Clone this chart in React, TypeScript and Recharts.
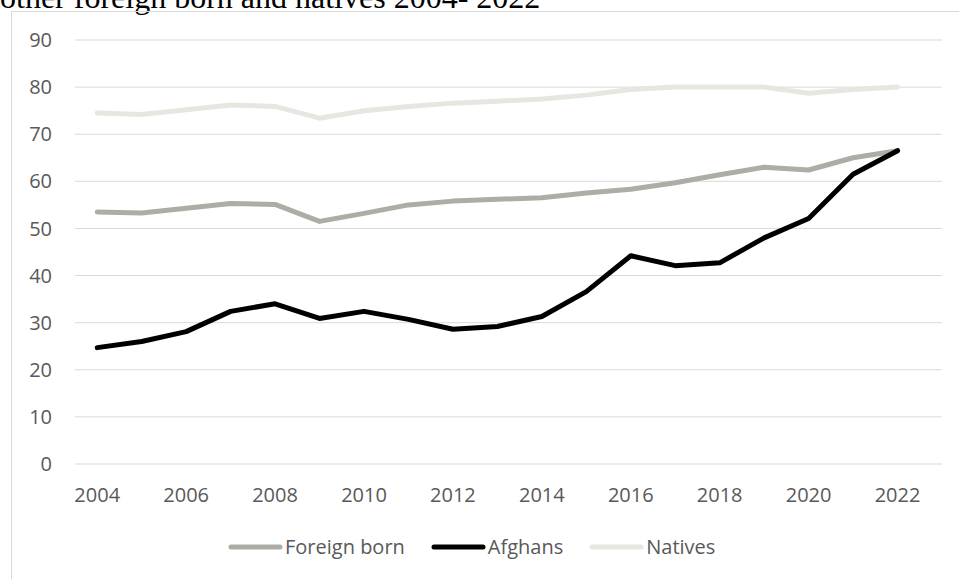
import React from 'react';
import { LineChart, Line, XAxis, YAxis, CartesianGrid, Legend } from 'recharts';

const years = [2004, 2005, 2006, 2007, 2008, 2009, 2010, 2011, 2012, 2013, 2014, 2015, 2016, 2017, 2018, 2019, 2020, 2021, 2022];
const foreignBorn = [53.5, 53.3, 54.3, 55.3, 55.1, 51.5, 53.2, 55.0, 55.8, 56.2, 56.5, 57.5, 58.3, 59.7, 61.4, 63.0, 62.4, 65.0, 66.5];
const afghans = [24.7, 26.0, 28.1, 32.4, 34.0, 30.9, 32.4, 30.7, 28.6, 29.2, 31.3, 36.6, 44.2, 42.1, 42.7, 48.0, 52.1, 61.5, 66.5];
const natives = [74.5, 74.2, 75.2, 76.2, 75.9, 73.4, 75.0, 75.9, 76.6, 77.0, 77.5, 78.3, 79.5, 80.0, 80.0, 80.0, 78.7, 79.5, 80.0];
const xTicks = [2004, 2006, 2008, 2010, 2012, 2014, 2016, 2018, 2020, 2022];
const yTicks = [0, 10, 20, 30, 40, 50, 60, 70, 80, 90];
const seriesNames = ['Foreign born', 'Afghans', 'Natives'];
const seriesColors = ['#ADADA6', '#000000', '#E7E6E1'];

const data = years.map((y, i) => ({
  year: y,
  'Foreign born': foreignBorn[i],
  Afghans: afghans[i],
  Natives: natives[i],
}));

const FONT = '"Open Sans", "Noto Sans", sans-serif';
const TEXT = '#595959';

const LegendContent = (props: any) => {
  const payload = [...(props.payload || [])].sort(
    (a: any, b: any) => seriesNames.indexOf(a.value) - seriesNames.indexOf(b.value)
  );
  return (
    <div style={{ display: 'flex', alignItems: 'center', fontFamily: FONT, fontSize: 20, color: TEXT }}>
      {payload.map((p: any, i: number) => (
        <div key={i} style={{ display: 'flex', alignItems: 'center', marginRight: 26 }}>
          <svg width={55} height={10} style={{ display: 'block' }}>
            <line x1={3} y1={5} x2={52} y2={5} stroke={p.color} strokeWidth={5} strokeLinecap="round" />
          </svg>
          <span style={{ marginLeft: 2, whiteSpace: 'nowrap' }}>{p.value}</span>
        </div>
      ))}
    </div>
  );
};

export default function App() {
  return (
    <div style={{ position: 'absolute', left: 0, top: 0, width: 959, height: 579, overflow: 'hidden', background: '#fff' }}>
      <div
        style={{
          position: 'absolute',
          left: 0,
          top: -19,
          fontFamily: '"Liberation Serif", "Times New Roman", serif',
          fontSize: 32,
          lineHeight: '32px',
          color: '#000',
          whiteSpace: 'nowrap',
        }}
      >
        other foreign born and natives 2004- 2022
      </div>
      <div
        style={{
          position: 'absolute',
          left: 11,
          top: 11,
          width: 960,
          height: 580,
          borderLeft: '1px solid #D9D9D9',
          borderTop: '1px solid #D9D9D9',
        }}
      />
      <div style={{ position: 'absolute', left: 0, top: 0 }}>
        <LineChart width={959} height={579} data={data} margin={{ top: 40, right: 17, left: 0, bottom: 0 }}>
          <CartesianGrid vertical={false} stroke="#D9D9D9" strokeWidth={1} />
          <XAxis
            dataKey="year"
            type="number"
            domain={[2003.5, 2022.5]}
            ticks={xTicks}
            allowDecimals={false}
            tickLine={false}
            axisLine={false}
            tickSize={0}
            tickMargin={24}
            height={85}
            tick={{ fill: TEXT, fontSize: 20, fontFamily: FONT }}
            interval={0}
          />
          <YAxis
            type="number"
            domain={[0, 90]}
            ticks={yTicks}
            tickLine={false}
            axisLine={false}
            tickSize={0}
            tickMargin={23}
            width={75}
            tick={{ fill: TEXT, fontSize: 20, fontFamily: FONT }}
            interval={0}
          />
          <Legend
            content={<LegendContent />}
            wrapperStyle={{ position: 'absolute', left: 228, top: 533, width: 700, height: 30 }}
          />
          {seriesNames.map((name, i) => (
            <Line
              key={name}
              type="linear"
              dataKey={name}
              name={name}
              stroke={seriesColors[i]}
              strokeWidth={5}
              strokeLinecap="round"
              strokeLinejoin="round"
              dot={false}
              activeDot={false}
              isAnimationActive={false}
            />
          ))}
        </LineChart>
      </div>
    </div>
  );
}
